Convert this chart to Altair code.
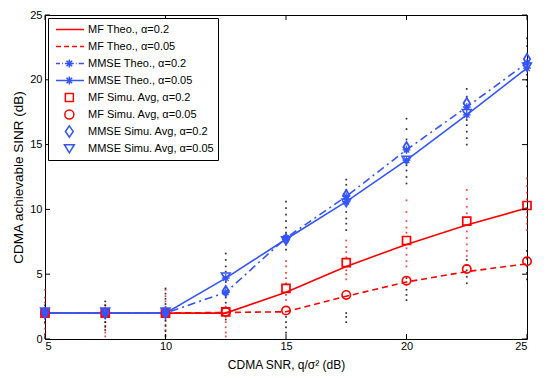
import altair as alt
import pandas as pd

# ---------------- data ----------------
snr = [5, 7.5, 10, 12.5, 15, 17.5, 20, 22.5, 25]

mf_theo_a02 = [2.0, 2.0, 2.0, 2.0, 3.6, 5.6, 7.3, 8.8, 10.1]
mf_theo_a005 = [2.0, 2.0, 2.0, 2.05, 2.1, 3.3, 4.4, 5.2, 5.8]
mmse_theo_a02 = [2.0, 2.0, 2.0, 3.6, 7.8, 11.0, 14.6, 17.9, 21.3]
mmse_theo_a005 = [2.0, 2.0, 2.0, 4.7, 7.7, 10.6, 13.8, 17.3, 20.9]

mf_simu_a02 = [2.0, 2.0, 2.0, 2.1, 3.9, 5.9, 7.6, 9.1, 10.3]
mf_simu_a005 = [2.0, 2.0, 2.0, 2.1, 2.2, 3.4, 4.5, 5.4, 6.0]
mmse_simu_a02 = [2.0, 2.0, 2.0, 3.7, 7.7, 11.1, 14.8, 18.2, 21.6]
mmse_simu_a005 = [2.1, 2.1, 2.1, 4.8, 7.6, 10.5, 13.8, 17.4, 21.0]

# individual simulation realisations (dots)
red_dots = {
    5: [0.1, 0.4, 0.8, 1.2, 1.6, 2.4, 2.8, 3.2, 3.8],
    7.5: [0.2, 0.5, 0.9, 1.3, 2.6],
    10: [0.3, 0.7, 1.1, 1.5, 2.5, 2.9, 3.3, 3.8],
    12.5: [0.2, 0.5, 0.9, 1.3, 1.7, 2.5],
    15: [3.0, 3.4, 4.3, 4.7, 5.1, 5.6, 6.0],
    17.5: [4.6, 5.0, 5.3, 6.3, 6.7, 7.1, 7.6],
    20: [5.6, 6.0, 6.5, 7.0, 8.2, 8.6, 9.1, 9.8, 10.7],
    22.5: [6.4, 6.8, 7.3, 7.8, 8.3, 9.7, 10.2, 10.8, 11.5],
    25: [8.4, 8.9, 9.4, 9.8, 10.8, 11.3, 11.8, 12.4],
}
black_dots = {
    5: [1.3, 1.6, 2.3, 2.6],
    7.5: [0.7, 1.0, 1.3, 1.6, 2.3, 2.6, 2.9],
    10: [0.2, 0.6, 1.0, 1.4, 1.7, 2.3, 2.7, 3.1, 3.5, 3.9],
    12.5: [1.5, 2.4, 2.8, 3.2, 4.0, 4.4, 5.2, 5.6, 6.1, 6.6],
    15: [0.5, 0.9, 1.3, 1.7, 6.9, 7.3, 8.2, 8.6, 9.1, 9.6, 10.1, 10.6],
    17.5: [1.3, 1.7, 2.0, 8.4, 8.9, 9.3, 9.8, 11.5, 11.9, 12.3],
    20: [3.0, 3.4, 3.8, 4.2, 4.7, 12.0, 12.5, 13.0, 13.4, 15.4, 16.2, 17.0],
    22.5: [4.3, 4.8, 5.3, 5.7, 6.1, 15.0, 15.5, 16.0, 16.5, 16.9, 18.7, 19.3],
    25: [4.6, 5.1, 5.6, 6.2, 6.8, 19.5, 20.0, 20.4, 22.0, 22.6, 23.2],
}

x_ticks = [5, 10, 15, 20, 25]
y_ticks = [0, 5, 10, 15, 20, 25]

legend_labels = [
    "MF Theo., α=0.2",
    "MF Theo., α=0.05",
    "MMSE Theo., α=0.2",
    "MMSE Theo., α=0.05",
    "MF Simu. Avg, α=0.2",
    "MF Simu. Avg, α=0.05",
    "MMSE Simu. Avg, α=0.2",
    "MMSE Simu. Avg, α=0.05",
]

# ---------------- styling ----------------
RED = "#ff0000"
BLUE = "#3355ff"
W, H = 482, 324
FONT = "Liberation Sans"

STAR = "M-1,0L1,0M0,-1L0,1M-0.7,-0.7L0.7,0.7M-0.7,0.7L0.7,-0.7"
DIAMOND = "M0,-1.3L0.8,0L0,1.3L-0.8,0Z"

# legend symbol paths (unit = 17 px, symbol box 34 px)
_star_leg = ("M0.02,-0.235L0.02,0.235M-0.215,0L0.255,0"
             "M-0.146,-0.166L0.186,0.166M-0.146,0.166L0.186,-0.166")
legend_paths = [
    "M-0.765,0L0.882,0",
    "M-0.765,0L-0.47,0M-0.29,0L0,0M0.18,0L0.47,0M0.65,0L0.88,0",
    "M-0.765,0L-0.53,0M-0.41,0L-0.36,0M-0.24,0L0.28,0M0.40,0L0.45,0M0.57,0L0.88,0" + _star_leg,
    "M-0.765,0L0.882,0" + _star_leg,
    "M-0.215,-0.235L0.255,-0.235L0.255,0.235L-0.215,0.235Z",
    "M0.285,0A0.265,0.265 0 1,1 -0.245,0A0.265,0.265 0 1,1 0.285,0Z",
    "M0.02,-0.33L0.25,0L0.02,0.33L-0.21,0Z",
    "M-0.27,-0.22L0.31,-0.22L0.02,0.26Z",
]
legend_colors = [RED, RED, BLUE, BLUE, RED, RED, BLUE, BLUE]

xscale = alt.Scale(domain=[5, 25], nice=False, zero=False)
yscale = alt.Scale(domain=[0, 25], nice=False, zero=False)
xaxis = alt.Axis(values=x_ticks, title="CDMA SNR, q/σ² (dB)", grid=False,
                 tickSize=0, labelPadding=1, titlePadding=8, titleFontSize=12, domain=False)
yaxis = alt.Axis(values=y_ticks, title="CDMA achievable SINR (dB)", grid=False,
                 tickSize=0, labelPadding=3, titlePadding=4, titleFontSize=13.5, domain=False)

X = alt.X("x:Q", scale=xscale, axis=xaxis)
Y = alt.Y("y:Q", scale=yscale, axis=yaxis)


def series_df(ys):
    return pd.DataFrame({"x": snr, "y": ys})


def dots_df(d):
    rows = [(k, v) for k, vals in d.items() for v in vals]
    return pd.DataFrame(rows, columns=["x", "y"])


layers = []

# dots
layers.append(alt.Chart(dots_df(red_dots)).mark_square(size=3, color=RED, opacity=0.75).encode(x=X, y=Y))
layers.append(alt.Chart(dots_df(black_dots)).mark_square(size=3, color="black", opacity=0.8).encode(x=X, y=Y))

# theory lines
layers.append(alt.Chart(series_df(mf_theo_a02)).mark_line(color=RED, strokeWidth=1.6).encode(x=X, y=Y))
layers.append(alt.Chart(series_df(mf_theo_a005)).mark_line(color=RED, strokeWidth=1.6, strokeDash=[6, 4]).encode(x=X, y=Y))
layers.append(alt.Chart(series_df(mmse_theo_a02)).mark_line(color=BLUE, strokeWidth=1.6, strokeDash=[8, 4, 2, 4]).encode(x=X, y=Y))
layers.append(alt.Chart(series_df(mmse_theo_a005)).mark_line(color=BLUE, strokeWidth=1.6).encode(x=X, y=Y))

# star markers on MMSE theory curves
for ys in (mmse_theo_a02, mmse_theo_a005):
    layers.append(alt.Chart(series_df(ys)).mark_point(shape=STAR, size=64, color=BLUE,
                                                      filled=False, strokeWidth=1.3, opacity=1).encode(x=X, y=Y))

# simulation average markers
layers.append(alt.Chart(series_df(mf_simu_a02)).mark_point(shape="square", size=64, color=RED,
                                                           filled=False, strokeWidth=1.7, opacity=1).encode(x=X, y=Y))
layers.append(alt.Chart(series_df(mf_simu_a005)).mark_point(shape="circle", size=70, color=RED,
                                                            filled=False, strokeWidth=1.7, opacity=1).encode(x=X, y=Y))
layers.append(alt.Chart(series_df(mmse_simu_a02)).mark_point(shape=DIAMOND, size=64, color=BLUE,
                                                             filled=False, strokeWidth=1.8, opacity=1).encode(x=X, y=Y))
layers.append(alt.Chart(series_df(mmse_simu_a005)).mark_point(shape="triangle-down", size=80, color=BLUE,
                                                              filled=False, strokeWidth=1.5, opacity=1).encode(x=X, y=Y))

# inward ticks on all four sides
xt = pd.DataFrame({"x": x_ticks})
yt = pd.DataFrame({"y": y_ticks})
layers.append(alt.Chart(xt).mark_rule(color="black").encode(x=X, y=alt.value(H), y2=alt.value(H - 5)))
layers.append(alt.Chart(xt).mark_rule(color="black").encode(x=X, y=alt.value(0), y2=alt.value(5)))
layers.append(alt.Chart(yt).mark_rule(color="black").encode(y=Y, x=alt.value(0), x2=alt.value(5)))
layers.append(alt.Chart(yt).mark_rule(color="black").encode(y=Y, x=alt.value(W), x2=alt.value(W - 5)))

# legend layer (no visible marks; legend driven by explicit scale domains)
leg = alt.Legend(orient="none", legendX=3, legendY=3, title=None,
                 strokeColor="black", fillColor="white", padding=3, cornerRadius=0,
                 symbolSize=1156, symbolStrokeWidth=1.5, clipHeight=17, rowPadding=0,
                 labelFontSize=11, labelFont=FONT, labelColor="black", labelOffset=1,
                 labelLimit=300)
leg_df = pd.DataFrame({"series": legend_labels, "x": [5] * 8, "y": [0] * 8})
layers.append(
    alt.Chart(leg_df).mark_point(filled=False, strokeWidth=1.5, opacity=1)
    .encode(
        x=X, y=Y,
        shape=alt.Shape("series:N", scale=alt.Scale(domain=legend_labels, range=legend_paths), legend=leg),
        color=alt.Color("series:N", scale=alt.Scale(domain=legend_labels, range=legend_colors), legend=leg),
    )
    .transform_filter("false")
)

chart = (
    alt.layer(*layers)
    .properties(width=W, height=H,
                padding={"left": 37, "top": 7, "right": 10, "bottom": 40},
                autosize=alt.AutoSizeParams(type="none"))
    .configure(font=FONT)
    .configure_view(stroke="black", strokeWidth=1)
    .configure_axis(labelFont=FONT, titleFont=FONT, labelFontSize=11,
                    labelColor="black", titleColor="black", titleFontWeight="normal")
)

chart.save("out.html", embed_options={"renderer": "svg", "actions": False})
